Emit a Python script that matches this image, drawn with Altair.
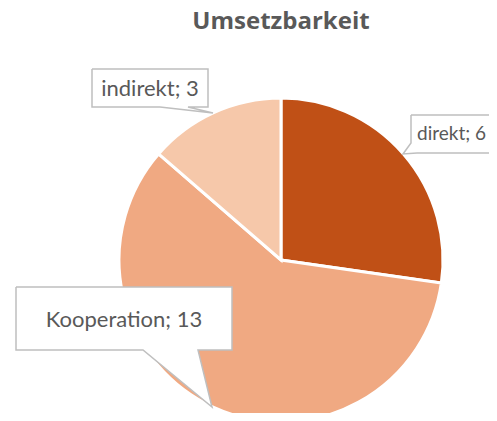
import altair as alt
import pandas as pd

# ---- data ----
categories = ["direkt", "Kooperation", "indirekt"]
values = [6, 13, 3]
colors = ["#C05016", "#F0A982", "#F6C8AA"]
label_texts = ["direkt; 6", "Kooperation; 13", "indirekt; 3"]
title_text = "Umsetzbarkeit"

# ---- layout (chart pixel coordinates) ----
W, H = 481, 405
CX, CY, R = 273, 252, 162
FONT = "Lato"
GREY = "#595959"

pie_df = pd.DataFrame({"category": categories, "value": values, "order": list(range(len(categories)))})

# callout outlines (box + pointer), layout only
callouts = {
    "direkt": [(403, 107), (520, 107), (520, 145), (409, 145), (395, 146), (403, 135)],
    "Kooperation": [(8, 279), (224, 279), (224, 342), (190, 342), (204, 399), (135, 342), (8, 342)],
    "indirekt": [(84, 61), (200, 61), (200, 99), (180, 99), (205, 105), (152, 99), (84, 99)],
}
rows = []
for name, pts in callouts.items():
    pts = pts + [pts[0]]
    for i, (x, y) in enumerate(pts):
        rows.append({"callout": name, "i": i, "x": x, "y": y})
callout_df = pd.DataFrame(rows)

label_df = pd.DataFrame({
    "text": label_texts,
    "x": [409, 116, 142],
    "y": [126, 312, 81],
    "size": [19, 22, 22],
    "align": ["left", "center", "center"],
})

xs = alt.Scale(domain=[0, W], range=[0, W])
ys = alt.Scale(domain=[0, H], range=[0, H])

pie = alt.Chart(pie_df).mark_arc(radius=R, stroke="white", strokeWidth=3).encode(
    theta=alt.Theta("value:Q", stack=True),
    order=alt.Order("order:Q"),
    color=alt.Color("category:N", scale=alt.Scale(domain=categories, range=colors), legend=None),
    x=alt.value(CX),
    y=alt.value(CY),
)

outline = alt.Chart(callout_df).mark_line(
    fill="white", stroke="#BFBFBF", strokeWidth=1.5, interpolate="linear", strokeJoin="miter"
).encode(
    x=alt.X("x:Q", scale=xs, axis=None),
    y=alt.Y("y:Q", scale=ys, axis=None),
    detail="callout:N",
    order="i:Q",
)

left_labels = alt.Chart(label_df[label_df["align"] == "left"]).mark_text(
    font=FONT, color=GREY, align="left", baseline="middle"
).encode(
    x=alt.X("x:Q", scale=xs, axis=None), y=alt.Y("y:Q", scale=ys, axis=None), text="text:N",
    size=alt.Size("size:Q", scale=None),
)

center_labels = alt.Chart(label_df[label_df["align"] == "center"]).mark_text(
    font=FONT, color=GREY, align="center", baseline="middle"
).encode(
    x=alt.X("x:Q", scale=xs, axis=None), y=alt.Y("y:Q", scale=ys, axis=None), text="text:N",
    size=alt.Size("size:Q", scale=None),
)

title = alt.Chart(pd.DataFrame({"t": [title_text]})).mark_text(
    font="Open Sans", fontSize=24, fontWeight="bold", color=GREY, align="center", baseline="alphabetic"
).encode(x=alt.value(273), y=alt.value(21), text="t:N")

chart = alt.layer(pie, outline, left_labels, center_labels, title).properties(
    width=W, height=H, autosize=alt.AutoSizeParams(type="none"), padding=0
).configure_view(stroke=None)

chart.save("out.html", embed_options={"renderer": "svg", "actions": False})
